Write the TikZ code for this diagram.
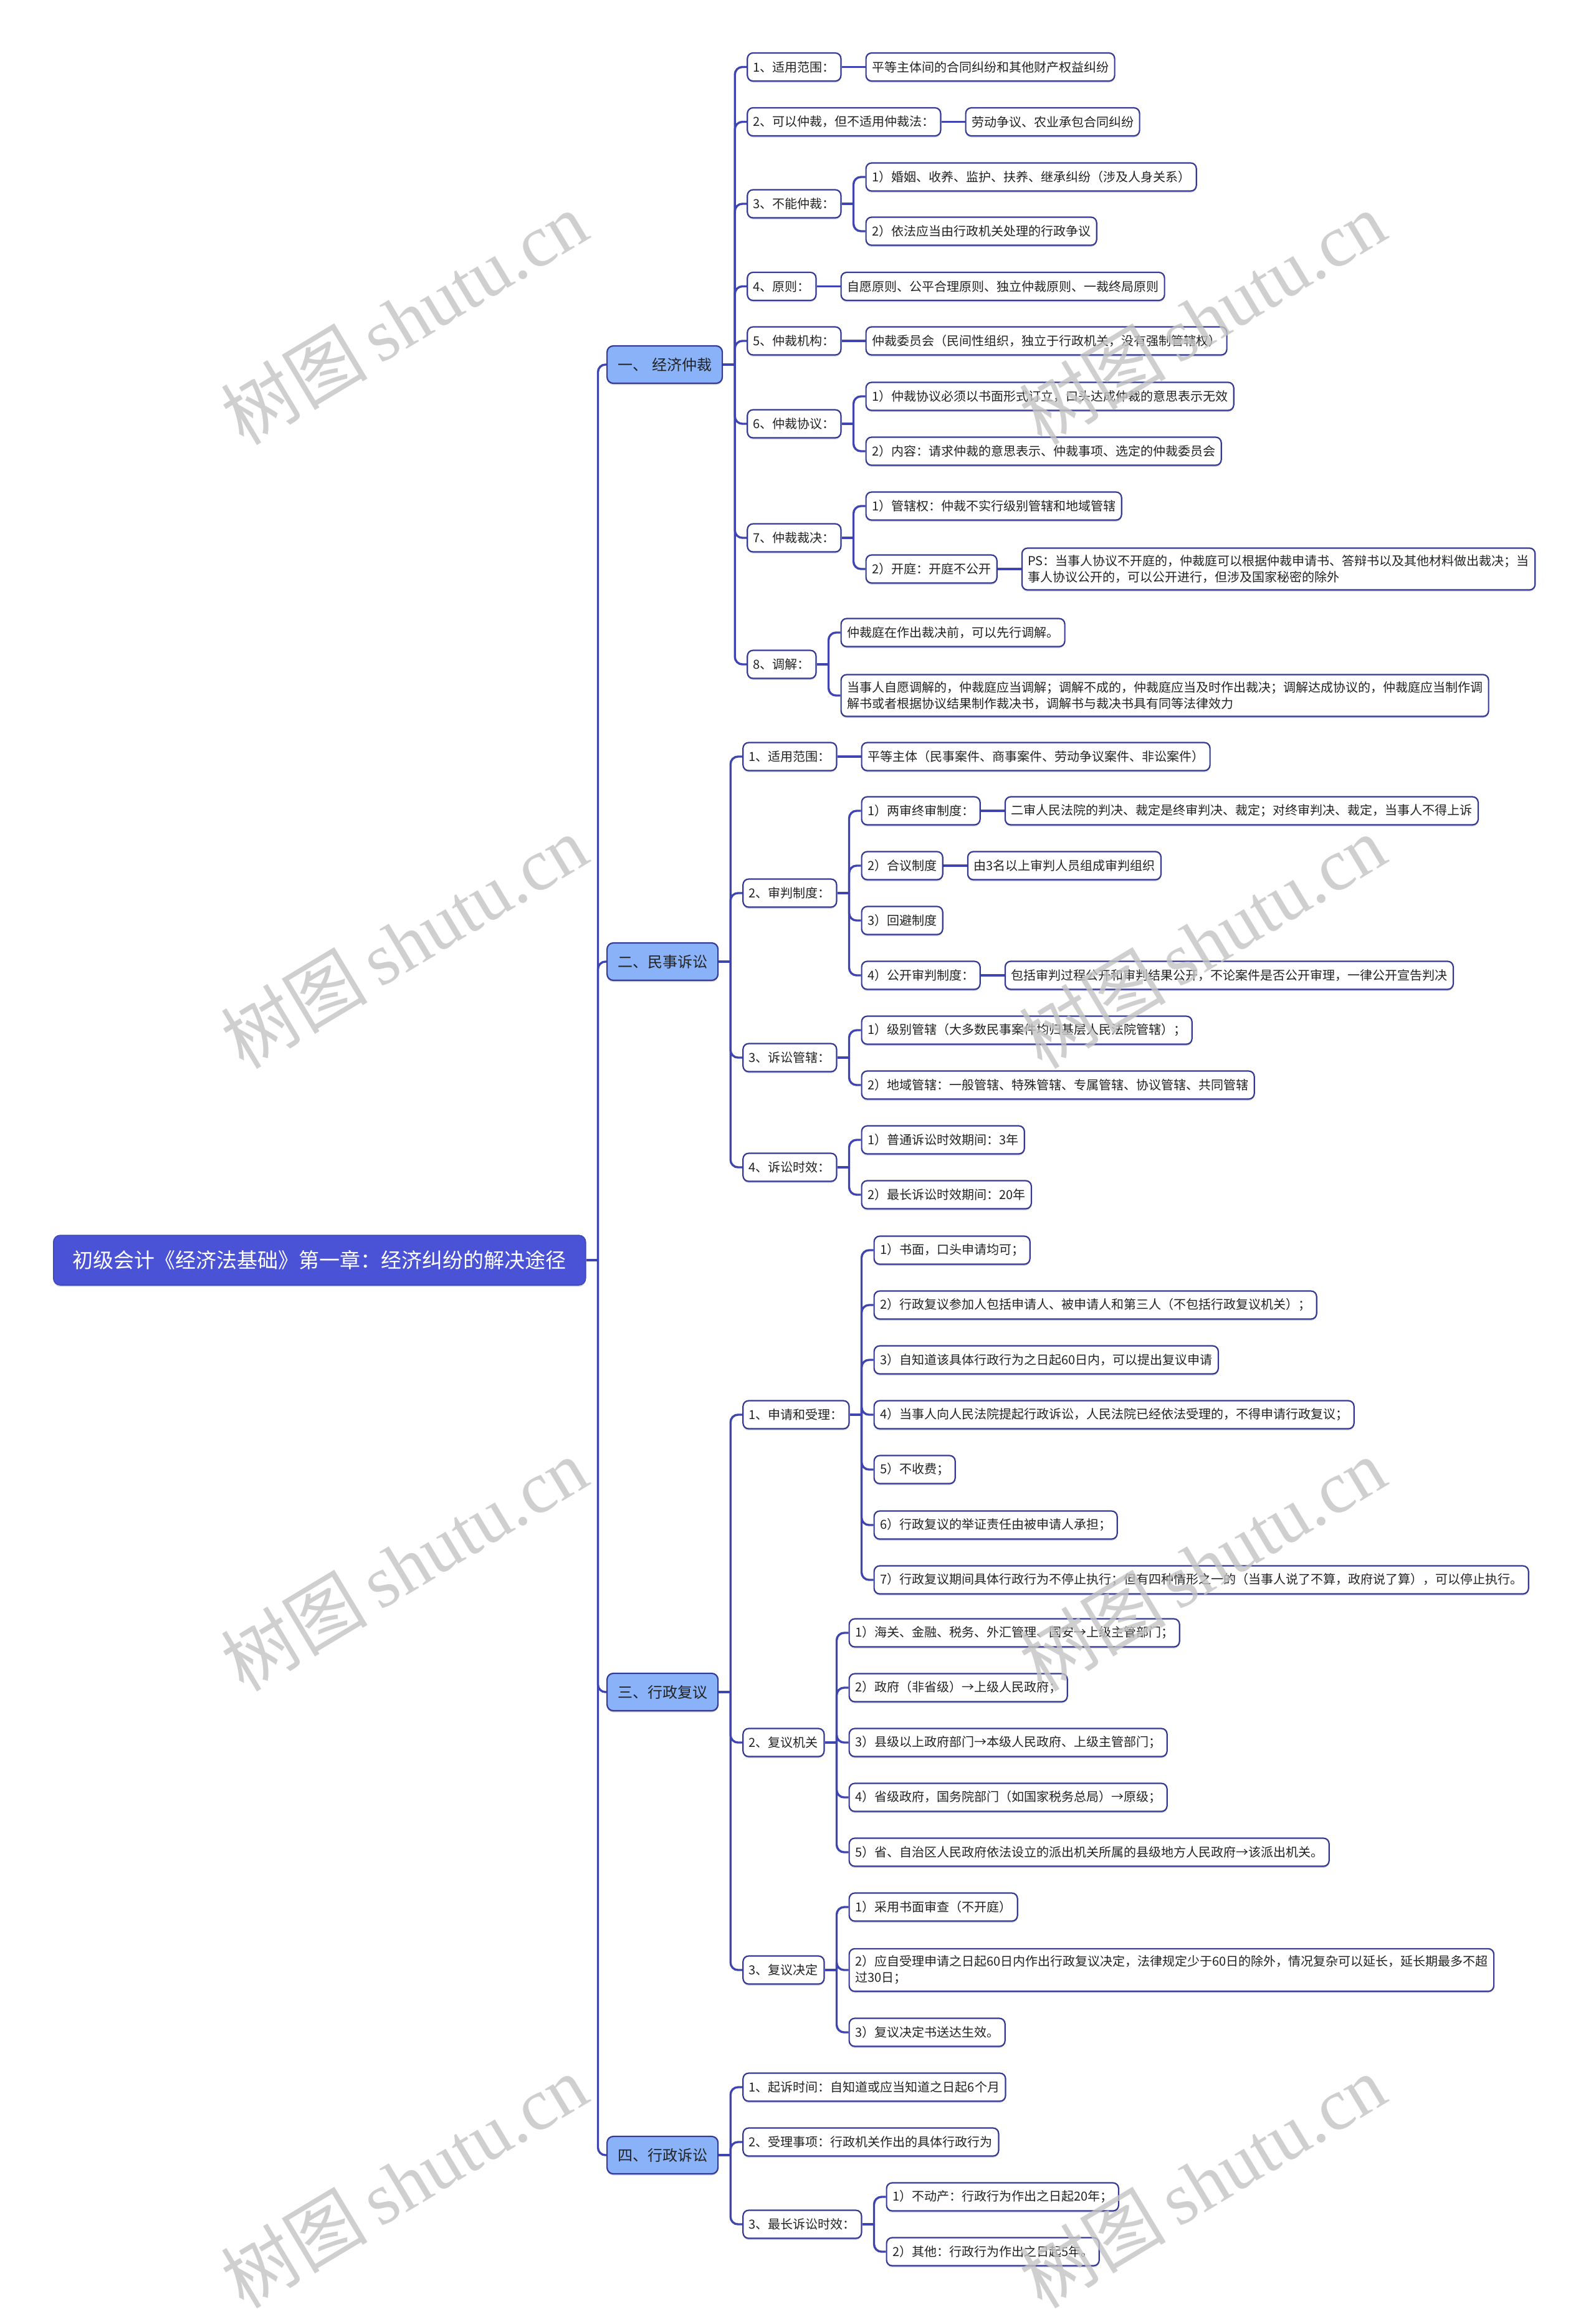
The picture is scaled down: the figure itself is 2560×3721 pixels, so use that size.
\documentclass[tikz,border=0pt]{standalone}
\usepackage{fontspec}
\newfontfamily\cjk{Noto Sans CJK SC}
\newfontfamily\wmfont{Liberation Serif}
\usetikzlibrary{calc,shadows}
\definecolor{lineC}{RGB}{62,68,178}
\definecolor{boxC}{RGB}{52,57,150}
\definecolor{rootC}{RGB}{74,82,214}
\definecolor{secC}{RGB}{138,178,248}
\definecolor{txtC}{RGB}{34,34,34}
\definecolor{wmC}{RGB}{196,196,196}
\newcommand\mkstub[1]{\draw[conn] (#1.east) -- ++(19pt,0);}
\newcommand\mkfork[2]{\draw[conn] (#1.east) ++(19pt,0) |- (#2.west);}
\newcommand\mkline[2]{\draw[conn] (#1.east) -- (#2.west);}
\begin{document}
\begin{tikzpicture}[x=1pt,y=-1pt,
  conn/.style={draw=lineC, line width=3.4pt, rounded corners=12pt},
  shd/.style={drop shadow={shadow xshift=0pt, shadow yshift=-2.5pt, opacity=0.18, fill=black}},
  leaf/.style={draw=boxC, line width=2.2pt, rounded corners=9pt, fill=white, shd,
    font=\cjk\fontsize{20}{26}\selectfont, text=txtC, inner xsep=9.5pt, inner ysep=0pt,
    minimum height=45pt, anchor=west},
  leaftwo/.style={leaf, align=left, inner ysep=11pt},
  sec/.style={draw=boxC, line width=2.2pt, rounded corners=10pt, fill=secC, shd,
    font=\cjk\fontsize{24}{28}\selectfont, text=txtC, inner xsep=17pt, inner ysep=0pt,
    minimum height=60pt, anchor=west},
  rootbox/.style={draw=rootC!85!black, line width=1.5pt, rounded corners=11pt, fill=rootC, shd,
    font=\cjk\fontsize{33}{38}\selectfont, text=white, inner xsep=20pt, inner ysep=0pt,
    minimum height=80pt, minimum width=854pt, anchor=west},
  wm/.style={font=\wmfont\fontsize{118}{130}\selectfont, text=wmC, rotate=31, opacity=0.8}
]
\useasboundingbox[fill=white] (0,0) rectangle (2560,3721);

% root and sections
\node[rootbox] (R) at (85,2022) {初级会计《经济法基础》第一章：经济纠纷的解决途径};
\node[sec] (S1) at (973,585) {一、\hspace{7pt}经济仲裁};
\node[sec] (S2) at (973,1543) {二、民事诉讼};
\node[sec] (S3) at (973,2715) {三、行政复议};
\node[sec] (S4) at (973,3458) {四、行政诉讼};
\mkstub{R}
\mkfork{R}{S1}\mkfork{R}{S2}\mkfork{R}{S3}\mkfork{R}{S4}

% ---------- section 1
\node[leaf,xshift=38pt] (A1) at (S1.east |- 0,107.5) {1、适用范围：};
\node[leaf,xshift=38pt] (A1c) at (A1.east) {平等主体间的合同纠纷和其他财产权益纠纷};
\node[leaf,xshift=38pt] (A2) at (S1.east |- 0,195.5) {2、可以仲裁，但不适用仲裁法：};
\node[leaf,xshift=38pt] (A2c) at (A2.east) {劳动争议、农业承包合同纠纷};
\node[leaf,xshift=38pt] (A3) at (S1.east |- 0,327) {3、不能仲裁：};
\node[leaf,xshift=38pt] (A3a) at (A3.east |- 0,284) {1）婚姻、收养、监护、扶养、继承纠纷（涉及人身关系）};
\node[leaf,xshift=38pt] (A3b) at (A3.east |- 0,371) {2）依法应当由行政机关处理的行政争议};
\node[leaf,xshift=38pt] (A4) at (S1.east |- 0,459.5) {4、原则：};
\node[leaf,xshift=38pt] (A4c) at (A4.east) {自愿原则、公平合理原则、独立仲裁原则、一裁终局原则};
\node[leaf,xshift=38pt] (A5) at (S1.east |- 0,547) {5、仲裁机构：};
\node[leaf,xshift=38pt] (A5c) at (A5.east) {仲裁委员会（民间性组织，独立于行政机关，没有强制管辖权）};
\node[leaf,xshift=38pt] (A6) at (S1.east |- 0,680) {6、仲裁协议：};
\node[leaf,xshift=38pt] (A6a) at (A6.east |- 0,636) {1）仲裁协议必须以书面形式订立，口头达成仲裁的意思表示无效};
\node[leaf,xshift=38pt] (A6b) at (A6.east |- 0,724) {2）内容：请求仲裁的意思表示、仲裁事项、选定的仲裁委员会};
\node[leaf,xshift=38pt] (A7) at (S1.east |- 0,863) {7、仲裁裁决：};
\node[leaf,xshift=38pt] (A7a) at (A7.east |- 0,812) {1）管辖权：仲裁不实行级别管辖和地域管辖};
\node[leaf,xshift=38pt] (A7b) at (A7.east |- 0,913) {2）开庭：开庭不公开};
\node[leaftwo,xshift=38pt] (A7bc) at (A7b.east) {PS：当事人协议不开庭的，仲裁庭可以根据仲裁申请书、答辩书以及其他材料做出裁决；当\\事人协议公开的，可以公开进行，但涉及国家秘密的除外};
\node[leaf,xshift=38pt] (A8) at (S1.east |- 0,1066) {8、调解：};
\node[leaf,xshift=38pt] (A8a) at (A8.east |- 0,1015) {仲裁庭在作出裁决前，可以先行调解。};
\node[leaftwo,xshift=38pt] (A8b) at (A8.east |- 0,1116) {当事人自愿调解的，仲裁庭应当调解；调解不成的，仲裁庭应当及时作出裁决；调解达成协议的，仲裁庭应当制作调\\解书或者根据协议结果制作裁决书，调解书与裁决书具有同等法律效力};

\mkstub{S1}
\foreach \c in {A1,A2,A3,A4,A5,A6,A7,A8} {\mkfork{S1}{\c}}
\mkline{A1}{A1c}\mkline{A2}{A2c}\mkline{A4}{A4c}\mkline{A5}{A5c}\mkline{A7b}{A7bc}
\mkstub{A3}\mkfork{A3}{A3a}\mkfork{A3}{A3b}
\mkstub{A6}\mkfork{A6}{A6a}\mkfork{A6}{A6b}
\mkstub{A7}\mkfork{A7}{A7a}\mkfork{A7}{A7b}
\mkstub{A8}\mkfork{A8}{A8a}\mkfork{A8}{A8b}

% ---------- section 2
\node[leaf,xshift=38pt] (B1) at (S2.east |- 0,1214) {1、适用范围：};
\node[leaf,xshift=38pt] (B1c) at (B1.east) {平等主体（民事案件、商事案件、劳动争议案件、非讼案件）};
\node[leaf,xshift=38pt] (B2) at (S2.east |- 0,1433) {2、审判制度：};
\node[leaf,xshift=38pt] (B2a) at (B2.east |- 0,1301) {1）两审终审制度：};
\node[leaf,xshift=38pt] (B2ac) at (B2a.east) {二审人民法院的判决、裁定是终审判决、裁定；对终审判决、裁定，当事人不得上诉};
\node[leaf,xshift=38pt] (B2b) at (B2.east |- 0,1389) {2）合议制度};
\node[leaf,xshift=38pt] (B2bc) at (B2b.east) {由3名以上审判人员组成审判组织};
\node[leaf,xshift=38pt] (B2c) at (B2.east |- 0,1477) {3）回避制度};
\node[leaf,xshift=38pt] (B2d) at (B2.east |- 0,1565) {4）公开审判制度：};
\node[leaf,xshift=38pt] (B2dc) at (B2d.east) {包括审判过程公开和审判结果公开，不论案件是否公开审理，一律公开宣告判决};
\node[leaf,xshift=38pt] (B3) at (S2.east |- 0,1697) {3、诉讼管辖：};
\node[leaf,xshift=38pt] (B3a) at (B3.east |- 0,1653) {1）级别管辖（大多数民事案件均归基层人民法院管辖）；};
\node[leaf,xshift=38pt] (B3b) at (B3.east |- 0,1741) {2）地域管辖：一般管辖、特殊管辖、专属管辖、协议管辖、共同管辖};
\node[leaf,xshift=38pt] (B4) at (S2.east |- 0,1873) {4、诉讼时效：};
\node[leaf,xshift=38pt] (B4a) at (B4.east |- 0,1829) {1）普通诉讼时效期间：3年};
\node[leaf,xshift=38pt] (B4b) at (B4.east |- 0,1917) {2）最长诉讼时效期间：20年};

\mkstub{S2}
\foreach \c in {B1,B2,B3,B4} {\mkfork{S2}{\c}}
\mkline{B1}{B1c}\mkline{B2a}{B2ac}\mkline{B2b}{B2bc}\mkline{B2d}{B2dc}
\mkstub{B2}\foreach \c in {B2a,B2b,B2c,B2d} {\mkfork{B2}{\c}}
\mkstub{B3}\mkfork{B3}{B3a}\mkfork{B3}{B3b}
\mkstub{B4}\mkfork{B4}{B4a}\mkfork{B4}{B4b}

% ---------- section 3
\node[leaf,xshift=38pt] (C1) at (S3.east |- 0,2270) {1、申请和受理：};
\node[leaf,xshift=38pt] (C1a) at (C1.east |- 0,2006) {1）书面，口头申请均可；};
\node[leaf,xshift=38pt] (C1b) at (C1.east |- 0,2094) {2）行政复议参加人包括申请人、被申请人和第三人（不包括行政复议机关）；};
\node[leaf,xshift=38pt] (C1c) at (C1.east |- 0,2182) {3）自知道该具体行政行为之日起60日内，可以提出复议申请};
\node[leaf,xshift=38pt] (C1d) at (C1.east |- 0,2270) {4）当事人向人民法院提起行政诉讼，人民法院已经依法受理的，不得申请行政复议；};
\node[leaf,xshift=38pt] (C1e) at (C1.east |- 0,2358) {5）不收费；};
\node[leaf,xshift=38pt] (C1f) at (C1.east |- 0,2447) {6）行政复议的举证责任由被申请人承担；};
\node[leaf,xshift=38pt] (C1g) at (C1.east |- 0,2535) {7）行政复议期间具体行政行为不停止执行；但有四种情形之一的（当事人说了不算，政府说了算），可以停止执行。};
\node[leaf,xshift=38pt] (C2) at (S3.east |- 0,2796) {2、复议机关};
\node[leaf,xshift=38pt] (C2a) at (C2.east |- 0,2620) {1）海关、金融、税务、外汇管理、国安→上级主管部门；};
\node[leaf,xshift=38pt] (C2b) at (C2.east |- 0,2708) {2）政府（非省级）→上级人民政府；};
\node[leaf,xshift=38pt] (C2c) at (C2.east |- 0,2796) {3）县级以上政府部门→本级人民政府、上级主管部门；};
\node[leaf,xshift=38pt] (C2d) at (C2.east |- 0,2884) {4）省级政府，国务院部门（如国家税务总局）→原级；};
\node[leaf,xshift=38pt] (C2e) at (C2.east |- 0,2972) {5）省、自治区人民政府依法设立的派出机关所属的县级地方人民政府→该派出机关。};
\node[leaf,xshift=38pt] (C3) at (S3.east |- 0,3161) {3、复议决定};
\node[leaf,xshift=38pt] (C3a) at (C3.east |- 0,3060) {1）采用书面审查（不开庭）};
\node[leaftwo,xshift=38pt] (C3b) at (C3.east |- 0,3161) {2）应自受理申请之日起60日内作出行政复议决定，法律规定少于60日的除外，情况复杂可以延长，延长期最多不超\\过30日；};
\node[leaf,xshift=38pt] (C3c) at (C3.east |- 0,3261) {3）复议决定书送达生效。};

\mkstub{S3}
\foreach \c in {C1,C2,C3} {\mkfork{S3}{\c}}
\mkstub{C1}\foreach \c in {C1a,C1b,C1c,C1d,C1e,C1f,C1g} {\mkfork{C1}{\c}}
\mkstub{C2}\foreach \c in {C2a,C2b,C2c,C2d,C2e} {\mkfork{C2}{\c}}
\mkstub{C3}\foreach \c in {C3a,C3b,C3c} {\mkfork{C3}{\c}}

% ---------- section 4
\node[leaf,xshift=38pt] (D1) at (S4.east |- 0,3349) {1、起诉时间：自知道或应当知道之日起6个月};
\node[leaf,xshift=38pt] (D2) at (S4.east |- 0,3437) {2、受理事项：行政机关作出的具体行政行为};
\node[leaf,xshift=38pt] (D3) at (S4.east |- 0,3569) {3、最长诉讼时效：};
\node[leaf,xshift=38pt] (D3a) at (D3.east |- 0,3525) {1）不动产：行政行为作出之日起20年；};
\node[leaf,xshift=38pt] (D3b) at (D3.east |- 0,3613) {2）其他：行政行为作出之日起5年。};

\mkstub{S4}
\foreach \c in {D1,D2,D3} {\mkfork{S4}{\c}}
\mkstub{D3}\mkfork{D3}{D3a}\mkfork{D3}{D3b}

% ---------- watermarks
\foreach \wx in {648,1929} {
  \foreach \wy in {510,1511,2510,3500} {
    \node[wm] (wm-\wx-\wy) at (\wx,\wy) {{\cjk 树图}\,shutu.cn};
  }
}
\end{tikzpicture}
\end{document}
